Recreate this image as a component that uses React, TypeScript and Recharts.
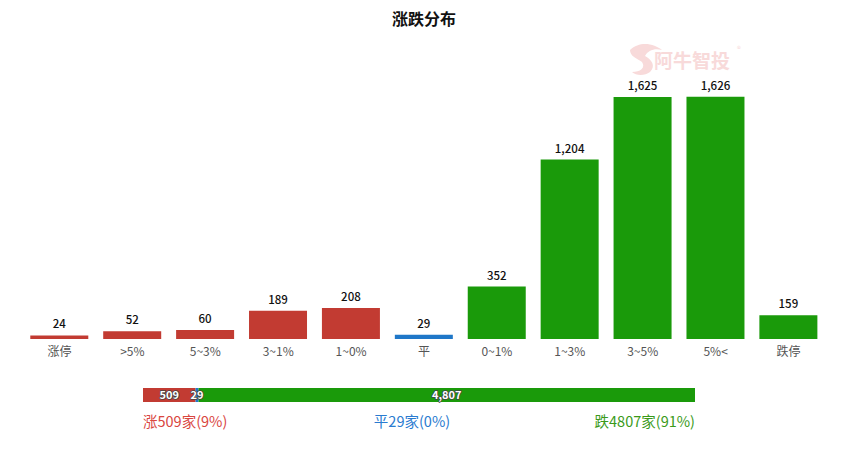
import { BarChart, Bar, XAxis, YAxis, Cell, LabelList } from 'recharts';

const categories = ['涨停', '>5%', '5~3%', '3~1%', '1~0%', '平', '0~1%', '1~3%', '3~5%', '5%<', '跌停'];
const counts = [24, 52, 60, 189, 208, 29, 352, 1204, 1625, 1626, 159];
const kinds = ['up', 'up', 'up', 'up', 'up', 'flat', 'down', 'down', 'down', 'down', 'down'];

const summaryKeys = ['up', 'flat', 'down'];
const summaryValues = [509, 29, 4807];
const summaryTexts = ['涨509家(9%)', '平29家(0%)', '跌4807家(91%)'];

const colors: Record<string, string> = { up: '#c23b32', flat: '#1f77c8', down: '#1a9a0a' };
const textColors: Record<string, string> = { up: '#d9463f', flat: '#2a7bd0', down: '#3a9a1a' };

const data = categories.map((name, i) => ({ name, value: counts[i], kind: kinds[i] }));
const summaryRow: Record<string, number | string> = { name: 'all' };
summaryKeys.forEach((k, i) => (summaryRow[k] = summaryValues[i]));
const total = summaryValues.reduce((a, b) => a + b, 0);

const fmt = (v: any) => Number(v).toLocaleString('en-US');
const font = '"Noto Sans CJK SC", "Noto Sans", sans-serif';

const App = () => {
    return (
        <div style={{ position: 'absolute', left: 0, top: 0, width: 862, height: 449, background: '#fff', fontFamily: font }}>
            <div style={{ position: 'absolute', left: 0, top: 6, width: 848, textAlign: 'center', fontSize: 16, fontWeight: 'bold', color: '#111' }}>
                涨跌分布
            </div>
            <svg width={862} height={100} style={{ position: 'absolute', left: 0, top: 0 }}>
                <path d="M630 50 C640 40 655 44 662 50 C655 48 648 50 645 56 C652 60 656 66 650 72 C645 76 636 76 632 72 C640 72 646 68 642 62 C636 58 630 56 630 50 Z" fill="#f8dada" />
                <text x={654} y={68} fontSize={19} fontWeight="bold" fill="#f8dada" fontFamily={font}>阿牛智投</text>
                <text x={737} y={52} fontSize={8} fill="#f8dada" fontFamily={font}>®</text>
            </svg>
            <div style={{ position: 'absolute', left: 0, top: 0 }}>
                <BarChart width={862} height={370} data={data} margin={{ top: 41, right: 37, bottom: 0, left: 23 }} barCategoryGap="10%">
                    <XAxis dataKey="name" axisLine={false} tickLine={false} height={31} interval={0} tick={{ fill: '#555', fontSize: 12, fontFamily: font }} />
                    <YAxis hide domain={[0, 2000]} />
                    <Bar dataKey="value" isAnimationActive={false}>
                        {data.map((d, i) => (
                            <Cell key={i} fill={colors[d.kind]} />
                        ))}
                        <LabelList dataKey="value" position="top" offset={7} formatter={fmt} style={{ fill: '#111', fontSize: 11.5, fontWeight: 500, fontFamily: font }} />
                    </Bar>
                </BarChart>
            </div>
            <div style={{ position: 'absolute', left: 143, top: 383 }}>
                <BarChart width={552} height={24} layout="vertical" data={[summaryRow]} margin={{ top: 5, right: 0, bottom: 5, left: 0 }} barCategoryGap={0}>
                    <XAxis type="number" hide domain={[0, total]} />
                    <YAxis type="category" dataKey="name" hide />
                    {summaryKeys.map((k) => (
                        <Bar key={k} dataKey={k} stackId="s" fill={colors[k]} isAnimationActive={false}>
                            <LabelList dataKey={k} position="inside" formatter={fmt} style={{ fill: '#fff', stroke: '#444', strokeWidth: 1.5, paintOrder: 'stroke', fontSize: 11, fontWeight: 'bold', fontFamily: font }} />
                        </Bar>
                    ))}
                </BarChart>
            </div>
            {summaryTexts.map((t, i) => (
                <div
                    key={t}
                    style={{
                        position: 'absolute',
                        top: 410,
                        fontSize: 14.5,
                        color: textColors[summaryKeys[i]],
                        ...(i === 0 ? { left: 143 } : i === 1 ? { left: 312, width: 200, textAlign: 'center' as const } : { right: 862 - 695 }),
                    }}
                >
                    {t}
                </div>
            ))}
        </div>
    );
};

export default App;
